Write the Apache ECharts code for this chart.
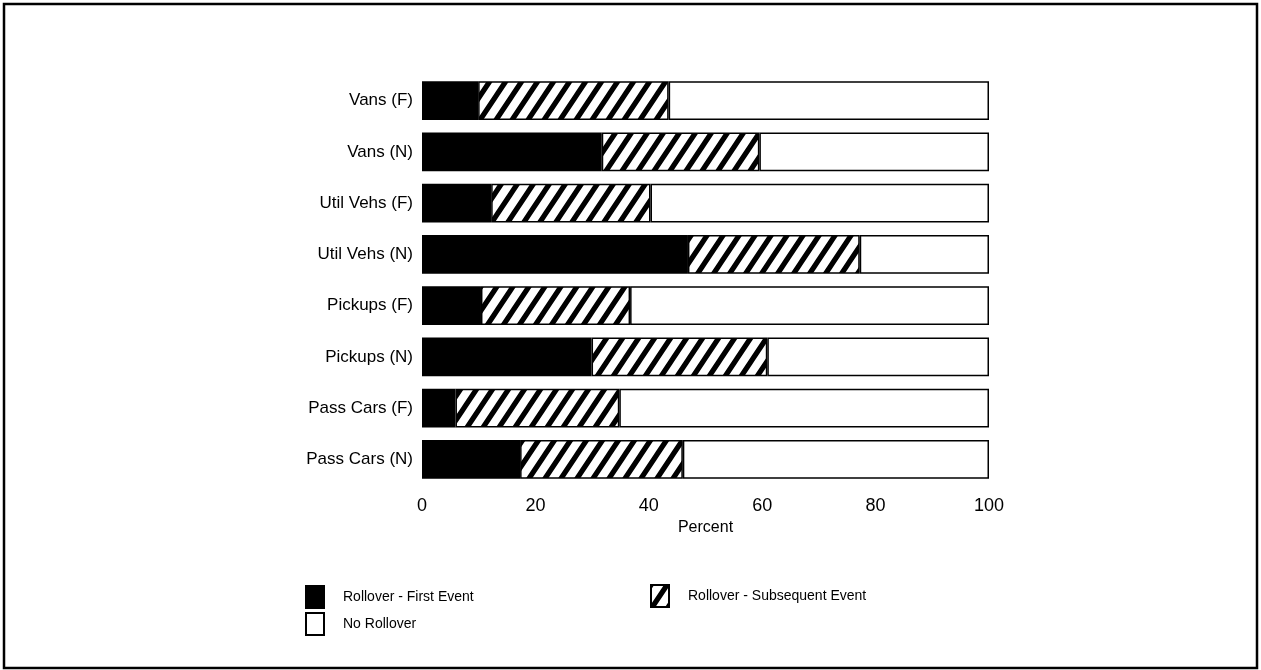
<!DOCTYPE html>
<html>
<head>
<meta charset="utf-8">
<script src="https://cdn.jsdelivr.net/npm/echarts@6/dist/echarts.min.js"></script>
<style>
html, body { margin: 0; padding: 0; background: #fff; }
#chart { width: 1261px; height: 670px; }
</style>
</head>
<body>
<div id="chart"></div>
<script>
// categories bottom -> top
var categories = ['Pass Cars (N)', 'Pass Cars (F)', 'Pickups (N)', 'Pickups (F)',
                  'Util Vehs (N)', 'Util Vehs (F)', 'Vans (N)', 'Vans (F)'];
var firstEvent = [17.3, 5.9, 29.9, 10.4, 46.9, 12.2, 31.7, 9.9];
var subsequentEvent = [28.7, 28.9, 31.0, 26.3, 30.3, 28.1, 27.8, 33.6];
var noRollover = [];
for (var i = 0; i < categories.length; i++) {
    noRollover.push(+(100 - firstEvent[i] - subsequentEvent[i]).toFixed(1));
}
var xTicks = [0, 20, 40, 60, 80, 100];

// diagonal hatch tile (slope h/w = 1.5), lines drawn past the tile edges
function hatch() {
    var w = 16, h = 24;
    var c = document.createElement('canvas');
    c.width = w; c.height = h;
    var ctx = c.getContext('2d');
    ctx.fillStyle = '#fff';
    ctx.fillRect(0, 0, w, h);
    ctx.strokeStyle = '#000';
    ctx.lineWidth = 5.2;
    ctx.beginPath();
    for (var k = -2; k <= 2; k++) {
        var x0 = k * w;
        ctx.moveTo(x0 - w, 2 * h);
        ctx.lineTo(x0 + 2 * w, -h);
    }
    ctx.stroke();
    return { image: c, repeat: 'repeat' };
}

var font = 'Liberation Sans, Arial, sans-serif';
var chart = echarts.init(document.getElementById('chart'));

function legendAt(name, left, top) {
    return {
        data: [name],
        left: left,
        top: top,
        padding: 0,
        icon: 'rect',
        itemWidth: 18,
        itemHeight: 22,
        selectedMode: false,
        textStyle: { fontFamily: font, fontSize: 14, color: '#000', padding: [0, 0, 0, 14] }
    };
}

var barStyle = { borderColor: '#000', borderWidth: 1.5 };

chart.setOption({
    animation: false,
    backgroundColor: '#fff',
    grid: { left: 422, right: 272, top: 75, height: 410 },
    legend: [
        legendAt('Rollover - First Event', 305, 585),
        legendAt('Rollover - Subsequent Event', 650, 584),
        legendAt('No Rollover', 305, 612)
    ],
    xAxis: {
        type: 'value',
        min: 0, max: 100, interval: 20,
        name: 'Percent',
        nameLocation: 'middle',
        nameGap: 33,
        nameTextStyle: { fontFamily: font, fontSize: 16, color: '#000' },
        axisLine: { show: false },
        axisTick: { show: false },
        splitLine: { show: false },
        axisLabel: {
            margin: 12,
            fontFamily: font, fontSize: 18, color: '#000',
            formatter: function (v) { return xTicks.indexOf(v) >= 0 ? String(v) : ''; }
        }
    },
    yAxis: {
        type: 'category',
        data: categories,
        axisLine: { show: false },
        axisTick: { show: false },
        axisLabel: { margin: 9, fontFamily: font, fontSize: 17, color: '#000' }
    },
    series: [
        {
            name: 'Rollover - First Event', type: 'bar', stack: 'all',
            barCategoryGap: '24%',
            itemStyle: Object.assign({ color: '#000' }, barStyle),
            data: firstEvent
        },
        {
            name: 'Rollover - Subsequent Event', type: 'bar', stack: 'all',
            itemStyle: Object.assign({ color: hatch() }, barStyle),
            data: subsequentEvent
        },
        {
            name: 'No Rollover', type: 'bar', stack: 'all',
            itemStyle: Object.assign({ color: '#fff' }, barStyle),
            data: noRollover
        }
    ],
    graphic: [{
        type: 'rect',
        shape: { x: 4, y: 4, width: 1253, height: 664 },
        style: { fill: 'none', stroke: '#000', lineWidth: 2.5 },
        silent: true
    }]
});
</script>
</body>
</html>
